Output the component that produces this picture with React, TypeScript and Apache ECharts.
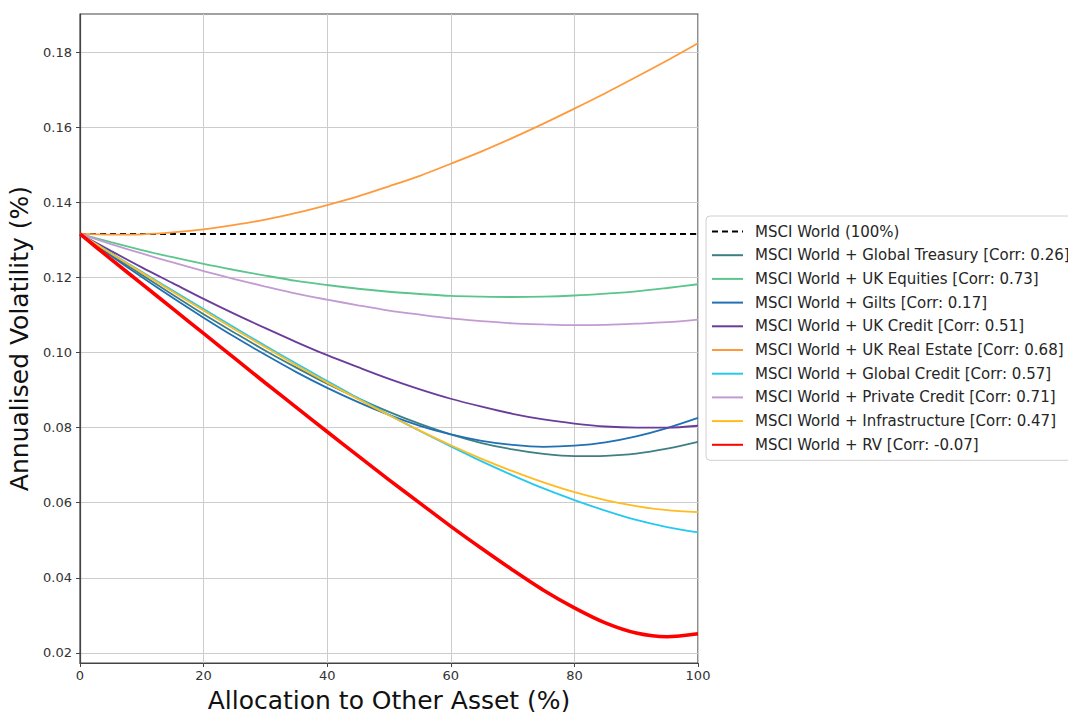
import React, { useEffect, useRef } from "react";
import * as echarts from "echarts";

const allocation = [0, 5, 10, 15, 20, 25, 30, 35, 40, 45, 50, 55, 60, 65, 70, 75, 80, 85, 90, 95, 100];

const msciWorld = [0.1316, 0.1316, 0.1316, 0.1316, 0.1316, 0.1316, 0.1316, 0.1316, 0.1316, 0.1316, 0.1316, 0.1316, 0.1316, 0.1316, 0.1316, 0.1316, 0.1316, 0.1316, 0.1316, 0.1316, 0.1316];
const globalTreasury = [0.1316, 0.1261, 0.1207, 0.1154, 0.1102, 0.1053, 0.1005, 0.096, 0.0917, 0.0878, 0.0842, 0.081, 0.0782, 0.0759, 0.0742, 0.073, 0.0724, 0.0725, 0.0731, 0.0744, 0.0762];
const ukEquities = [0.1316, 0.1294, 0.1273, 0.1254, 0.1236, 0.122, 0.1205, 0.1191, 0.118, 0.117, 0.1162, 0.1156, 0.1151, 0.1149, 0.1148, 0.1149, 0.1152, 0.1157, 0.1163, 0.1172, 0.1182];
const gilts = [0.1316, 0.1258, 0.1201, 0.1146, 0.1093, 0.1042, 0.0994, 0.0948, 0.0906, 0.0868, 0.0834, 0.0805, 0.0782, 0.0765, 0.0754, 0.0749, 0.0752, 0.0761, 0.0777, 0.0799, 0.0826];
const ukCredit = [0.1316, 0.1271, 0.1227, 0.1185, 0.1143, 0.1103, 0.1065, 0.1028, 0.0993, 0.0961, 0.093, 0.0902, 0.0877, 0.0856, 0.0837, 0.0822, 0.0811, 0.0803, 0.08, 0.08, 0.0805];
const ukRealEstate = [0.1316, 0.1314, 0.1315, 0.132, 0.1328, 0.134, 0.1354, 0.1372, 0.1393, 0.1416, 0.1443, 0.1471, 0.1503, 0.1536, 0.1572, 0.161, 0.165, 0.1691, 0.1734, 0.1778, 0.1824];
const globalCredit = [0.1316, 0.1265, 0.1215, 0.1165, 0.1116, 0.1067, 0.1018, 0.0971, 0.0924, 0.0879, 0.0834, 0.0791, 0.075, 0.071, 0.0673, 0.0638, 0.0607, 0.0579, 0.0554, 0.0535, 0.0521];
const privateCredit = [0.1316, 0.1289, 0.1264, 0.124, 0.1217, 0.1196, 0.1176, 0.1157, 0.1141, 0.1126, 0.1112, 0.1101, 0.1091, 0.1084, 0.1078, 0.1075, 0.1073, 0.1074, 0.1077, 0.1081, 0.1088];
const infrastructure = [0.1316, 0.1264, 0.1213, 0.1162, 0.1112, 0.1062, 0.1014, 0.0966, 0.092, 0.0876, 0.0833, 0.0792, 0.0753, 0.0717, 0.0684, 0.0654, 0.0628, 0.0607, 0.0591, 0.058, 0.0575];
const rv = [0.1316, 0.1249, 0.1183, 0.1117, 0.1051, 0.0985, 0.0919, 0.0854, 0.0789, 0.0725, 0.0661, 0.0599, 0.0537, 0.0478, 0.0421, 0.0367, 0.032, 0.028, 0.0253, 0.0243, 0.0251];

const yTicks = [0.02, 0.04, 0.06, 0.08, 0.1, 0.12, 0.14, 0.16, 0.18];

const seriesDefs = [
  { name: "MSCI World (100%)", y: msciWorld, color: "#000000", width: 2, dashed: true },
  { name: "MSCI World + Global Treasury [Corr: 0.26]", y: globalTreasury, color: "#3d7f85", width: 1.8 },
  { name: "MSCI World + UK Equities [Corr: 0.73]", y: ukEquities, color: "#5cc58d", width: 1.8 },
  { name: "MSCI World + Gilts [Corr: 0.17]", y: gilts, color: "#2070b4", width: 1.8 },
  { name: "MSCI World + UK Credit [Corr: 0.51]", y: ukCredit, color: "#6a3d9a", width: 1.8 },
  { name: "MSCI World + UK Real Estate [Corr: 0.68]", y: ukRealEstate, color: "#ff9a3c", width: 1.8 },
  { name: "MSCI World + Global Credit [Corr: 0.57]", y: globalCredit, color: "#27c8ef", width: 1.8 },
  { name: "MSCI World + Private Credit [Corr: 0.71]", y: privateCredit, color: "#c39bd3", width: 1.8 },
  { name: "MSCI World + Infrastructure [Corr: 0.47]", y: infrastructure, color: "#ffbb22", width: 1.8 },
  { name: "MSCI World + RV [Corr: -0.07]", y: rv, color: "#ff0000", width: 3.6 },
];

export default function App() {
  const ref = useRef<HTMLDivElement>(null);
  useEffect(() => {
    document.body.style.margin = "0";
    if (!ref.current) return;
    const chart = echarts.init(ref.current, undefined, { renderer: "svg" });
    const font = "DejaVu Sans";
    chart.setOption({
      animation: false,
      backgroundColor: "#ffffff",
      textStyle: { fontFamily: font },
      grid: {
        left: 80,
        right: 370,
        top: 14,
        bottom: 49,
        show: true,
        borderColor: "#444",
        borderWidth: 1.2,
        containLabel: false,
        outerBoundsMode: "none",
      },
      legend: {
        orient: "vertical",
        left: 706,
        top: 216,
        itemWidth: 31,
        itemHeight: 15,
        itemGap: 8.7,
        padding: [8, 10, 8, 5],
        backgroundColor: "#ffffff",
        borderColor: "#d0d0d0",
        borderWidth: 1,
        borderRadius: 4,
        itemStyle: { opacity: 0, borderWidth: 0 },
        textStyle: { fontFamily: font, fontSize: 15, color: "#262626", padding: [0, 0, 0, 7] },
        data: seriesDefs.map((s) => s.name),
      },
      xAxis: {
        type: "value",
        min: 0,
        max: 100,
        interval: 20,
        name: "Allocation to Other Asset (%)",
        nameLocation: "middle",
        nameGap: 20,
        nameTextStyle: { fontFamily: font, fontSize: 25, lineHeight: 28, color: "#111" },
        axisLine: { show: true, lineStyle: { color: "#444", width: 1.2 } },
        axisTick: { show: true, length: 4, lineStyle: { color: "#444" } },
        axisLabel: { fontFamily: font, fontSize: 13, color: "#333", margin: 6 },
        splitLine: { show: true, lineStyle: { color: "#cccccc", width: 1 } },
      },
      yAxis: {
        type: "value",
        min: 0.0173,
        max: 0.1902,
        name: "Annualised Volatility (%)",
        nameLocation: "middle",
        nameRotate: 90,
        nameGap: 47,
        nameTextStyle: { fontFamily: font, fontSize: 25, color: "#111" },
        axisLine: { show: true, lineStyle: { color: "#444", width: 1.2 } },
        axisTick: { show: true, length: 4, lineStyle: { color: "#444" }, customValues: yTicks },
        axisLabel: {
          fontFamily: font,
          fontSize: 13,
          color: "#333",
          margin: 8,
          customValues: yTicks,
          formatter: (v: number) => v.toFixed(2),
        },
        splitLine: { show: true, lineStyle: { color: "#cccccc", width: 1 } },
      },
      series: seriesDefs.map((s) => ({
        name: s.name,
        type: "line",
        data: allocation.map((xv, i) => [xv, s.y[i]]),
        smooth: 0.3,
        symbol: "none",
        showSymbol: false,
        itemStyle: { color: s.color },
        lineStyle: { color: s.color, width: s.width, type: s.dashed ? [6, 4] : "solid" },
        emphasis: { disabled: true },
      })),
    });
    return () => chart.dispose();
  }, []);
  return <div ref={ref} style={{ width: 1068, height: 712 }} />;
}
